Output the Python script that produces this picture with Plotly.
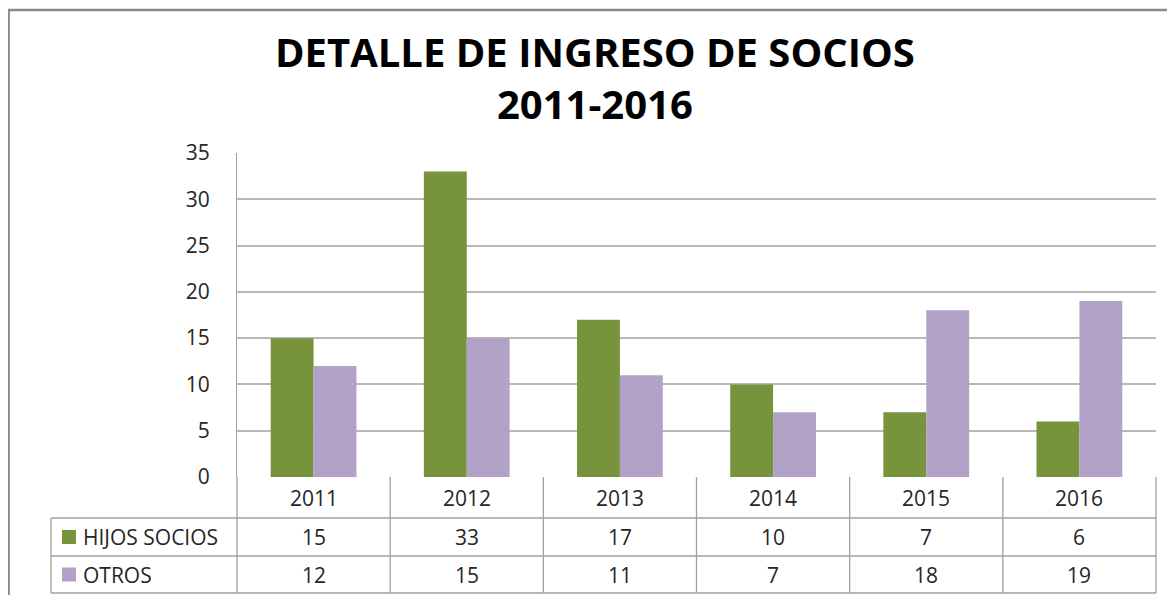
import plotly.graph_objects as go

years = ["2011", "2012", "2013", "2014", "2015", "2016"]
hijos_socios = [15, 33, 17, 10, 7, 6]
otros = [12, 15, 11, 7, 18, 19]
series_names = ["HIJOS SOCIOS", "OTROS"]
title_lines = ["DETALLE DE INGRESO DE SOCIOS", "2011-2016"]
y_ticks = [0, 5, 10, 15, 20, 25, 30, 35]

W, H = 1175, 595
OFF = 8  # page body margin
GREEN = "#77933C"
PURPLE = "#B3A2C7"
GRID = "#B8B8B8"
LINE = "#A0A0A0"
FONT = "Open Sans"

def px(x):
    return (x - OFF) / W

def py(y):
    return 1 - (y - OFF) / H

# layout geometry (screen pixels)
PL, PR, PT, PB = 237, 1156, 153, 477
ROW1, ROW2, ROW3 = 518, 556, 593
TL = 51

fig = go.Figure()
fig.add_trace(go.Bar(x=years, y=hijos_socios, name=series_names[0], marker_color=GREEN, marker_line_width=0))
fig.add_trace(go.Bar(x=years, y=otros, name=series_names[1], marker_color=PURPLE, marker_line_width=0))

shapes = []
annotations = []

# outer frame
shapes.append(dict(type="rect", xref="paper", yref="paper", x0=px(8.6), x1=px(1200), y0=py(10), y1=py(640),
                   line=dict(color="#8A8A8A", width=2.5), layer="below"))

# table lines
line_style = dict(color=LINE, width=1.3)
for yy in [ROW1, ROW2, ROW3]:
    shapes.append(dict(type="line", xref="paper", yref="paper", x0=px(TL), x1=px(PR), y0=py(yy), y1=py(yy), line=line_style))
shapes.append(dict(type="line", xref="paper", yref="paper", x0=px(TL), x1=px(TL), y0=py(ROW1), y1=py(ROW3), line=line_style))
n = len(years)
cw = (PR - PL) / n
for i in range(n + 1):
    xx = PL + i * cw
    shapes.append(dict(type="line", xref="paper", yref="paper", x0=px(xx), x1=px(xx), y0=py(PB), y1=py(ROW3), line=line_style))

cell_font = dict(family=FONT, size=21, color="#262626")
for i, yr in enumerate(years):
    cx = PL + (i + 0.5) * cw
    annotations.append(dict(xref="paper", yref="paper", x=px(cx), y=py((PB + ROW1) / 2), text=yr,
                            showarrow=False, font=cell_font, xanchor="center", yanchor="middle"))
    annotations.append(dict(xref="paper", yref="paper", x=px(cx), y=py((ROW1 + ROW2) / 2), text=str(hijos_socios[i]),
                            showarrow=False, font=cell_font, xanchor="center", yanchor="middle"))
    annotations.append(dict(xref="paper", yref="paper", x=px(cx), y=py((ROW2 + ROW3) / 2), text=str(otros[i]),
                            showarrow=False, font=cell_font, xanchor="center", yanchor="middle"))

# legend keys in table
for name, color, (r0, r1) in [(series_names[0], GREEN, (ROW1, ROW2)), (series_names[1], PURPLE, (ROW2, ROW3))]:
    mid = (r0 + r1) / 2
    shapes.append(dict(type="rect", xref="paper", yref="paper", x0=px(62), x1=px(76), y0=py(mid - 7), y1=py(mid + 7),
                       fillcolor=color, line=dict(width=0)))
    annotations.append(dict(xref="paper", yref="paper", x=px(81), y=py(mid), text=name, showarrow=False,
                            font=cell_font, xanchor="left", yanchor="middle"))

# title (two lines in one text block)
annotations.append(dict(xref="paper", yref="paper", x=px(595), y=py(77),
                        text="<b>" + title_lines[0] + "<br>" + title_lines[1] + "</b>",
                        showarrow=False, font=dict(family=FONT, size=40, color="#000000"),
                        xanchor="center", yanchor="middle", align="center"))

fig.update_layout(
    width=W, height=H,
    margin=dict(l=0, r=0, t=0, b=0, pad=0, autoexpand=False),
    paper_bgcolor="white", plot_bgcolor="white",
    barmode="group", bargap=0.44, bargroupgap=0,
    showlegend=False,
    shapes=shapes, annotations=annotations,
    xaxis=dict(domain=[px(PL), px(PR)], range=[-0.5, n - 0.5], showticklabels=False, showgrid=False,
               zeroline=False, showline=False, fixedrange=True, automargin=False),
    yaxis=dict(domain=[py(PB), py(PT)], range=[0, 35], tickvals=y_ticks, showgrid=True, gridcolor=GRID, gridwidth=1.5,
               zeroline=False, showline=True, linecolor=LINE, linewidth=1.3, ticks="", automargin=False,
               ticklabelstandoff=22, tickfont=dict(family=FONT, size=21, color="#262626"), fixedrange=True),
)

fig.write_html("out.html")
